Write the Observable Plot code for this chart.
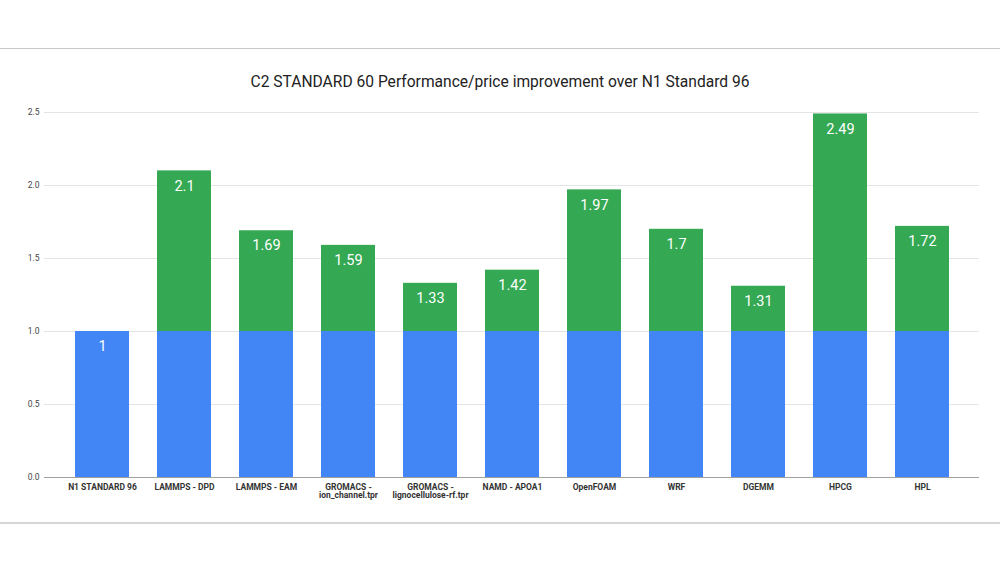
<!DOCTYPE html>
<html><head><meta charset="utf-8">
<script src="https://cdn.jsdelivr.net/npm/d3@7"></script>
<script src="https://cdn.jsdelivr.net/npm/@observablehq/plot@0.6"></script>
<style>
body{margin:0;background:#fff;font-family:Roboto,"Noto Sans",sans-serif;}
#page{position:relative;width:1000px;height:562px;overflow:hidden;}
.line{position:absolute;left:0;width:1000px;}
#title{position:absolute;left:0;width:1000px;top:73px;text-align:center;font-size:15.6px;color:#222;}
#chart{position:absolute;left:-1px;top:100px;}
</style></head>
<body><div id="page">
<div class="line" style="top:48px;height:1px;background:#c8c8c8"></div>
<div id="title">C2 STANDARD 60 Performance/price improvement over N1 Standard 96</div>
<div id="chart"></div>
<div class="line" style="top:522px;height:2px;background:#d6d6d6"></div>
</div>
<script>
const categories = ["N1 STANDARD 96","LAMMPS - DPD","LAMMPS - EAM","GROMACS -\nion_channel.tpr","GROMACS -\nlignocellulose-rf.tpr","NAMD - APOA1","OpenFOAM","WRF","DGEMM","HPCG","HPL"];
const values = [1, 2.1, 1.69, 1.59, 1.33, 1.42, 1.97, 1.7, 1.31, 2.49, 1.72];
const valueLabels = ["1","2.1","1.69","1.59","1.33","1.42","1.97","1.7","1.31","2.49","1.72"];
const baseline = 1;
const yTicks = [0, 0.5, 1.0, 1.5, 2.0, 2.5];

const data = categories.map((c, i) => ({cat: c, v: values[i], label: valueLabels[i]}));

const chart = Plot.plot({
  width: 1000,
  height: 410,
  marginLeft: 45,
  marginRight: 20,
  marginTop: 12,
  marginBottom: 33,
  style: {fontFamily: "Roboto, 'Noto Sans', sans-serif", background: "transparent"},
  x: {domain: categories, padding: 0.344, label: null},
  y: {domain: [0, 2.5], label: null},
  marks: [
    Plot.gridY(yTicks, {stroke: "#e4e4e4", strokeOpacity: 1}),
    Plot.barY(data, {x: "cat", y1: 0, y2: d => Math.min(d.v, baseline), fill: "#4285F4"}),
    Plot.barY(data.filter(d => d.v > baseline), {x: "cat", y1: baseline, y2: "v", fill: "#34A853"}),
    Plot.text(data, {x: "cat", y: "v", text: "label", dy: 15, fill: "white", fontSize: 14.5, lineAnchor: "middle"}),
    Plot.ruleY([0], {stroke: "#a0a0a0", strokeWidth: 1.2}),
    Plot.axisY(yTicks, {tickFormat: d3.format(".1f"), tickSize: 0, tickPadding: 5, fontSize: 8.5, fill: "#444"}),
    Plot.axisX({tickSize: 0, tickPadding: 6, fontSize: 8.5, fontWeight: "bold", fill: "#333"})
  ]
});
document.getElementById("chart").appendChild(chart);
</script>
</body></html>
